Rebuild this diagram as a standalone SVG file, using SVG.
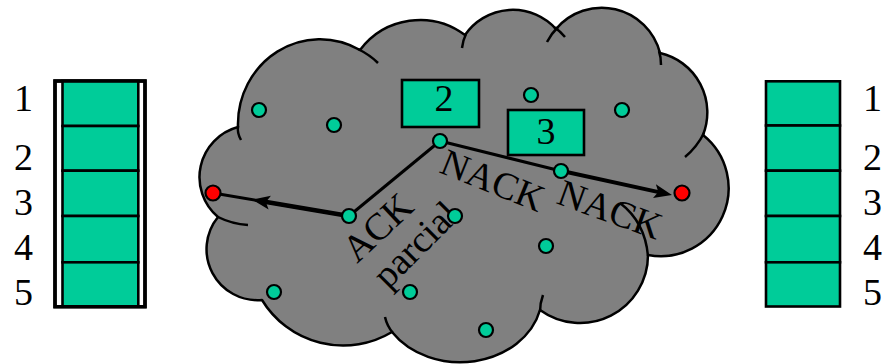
<svg xmlns="http://www.w3.org/2000/svg" width="883" height="364" viewBox="0 0 883 364">
<style>
.cell{fill:#00CC99;stroke:#000;stroke-width:2.6}
.lbl{font-family:"Liberation Serif","Times New Roman",serif;font-size:38px;fill:#000}
.node{fill:#00CC99;stroke:#000;stroke-width:2.2}
.end{fill:#FF0000;stroke:#000;stroke-width:2.2}
.tail{fill:none;stroke:#000;stroke-width:2.5}
.conn{fill:none;stroke:#000;stroke-linecap:butt}
</style>
<defs>
<marker id="ah" markerUnits="userSpaceOnUse" markerWidth="18" markerHeight="16" viewBox="0 0 18 16" refX="8" refY="8" orient="auto">
<path d="M0,1 L18,8 L0,15 L4,8 z" fill="#000"/>
</marker>
</defs>
<rect width="883" height="364" fill="#fff"/>

<g id="sender-buffer">
<rect x="55" y="81" width="90" height="225.7" fill="#fff" stroke="#000" stroke-width="3.4"/>
<rect class="cell" x="62.5" y="81" width="75.8" height="45"/>
<rect class="cell" x="62.5" y="126" width="75.8" height="44.7"/>
<rect class="cell" x="62.5" y="170.7" width="75.8" height="45.3"/>
<rect class="cell" x="62.5" y="216" width="75.8" height="46.3"/>
<rect class="cell" x="62.5" y="262.3" width="75.8" height="44.4"/>
<rect x="55" y="81" width="90" height="225.7" fill="none" stroke="#000" stroke-width="3.4"/>
<text class="lbl" x="14" y="111">1</text>
<text class="lbl" x="14" y="170">2</text>
<text class="lbl" x="14" y="215">3</text>
<text class="lbl" x="14" y="260">4</text>
<text class="lbl" x="14" y="305">5</text>
</g>

<g id="receiver-buffer">
<rect class="cell" x="766" y="81.3" width="74" height="44.2"/>
<rect class="cell" x="766" y="125.5" width="74" height="45.2"/>
<rect class="cell" x="766" y="170.7" width="74" height="45.3"/>
<rect class="cell" x="766" y="216" width="74" height="46.3"/>
<rect class="cell" x="766" y="262.3" width="74" height="44.2"/>
<text class="lbl" x="863" y="111">1</text>
<text class="lbl" x="863" y="170">2</text>
<text class="lbl" x="863" y="215">3</text>
<text class="lbl" x="863" y="260">4</text>
<text class="lbl" x="863" y="305">5</text>
</g>

<g id="network-cloud">
<path d="M238,127 A82,85 0 0 1 360,50 A75,75 0 0 1 465,35 A58,58 0 0 1 556,29 A60,60 0 0 1 660,53 A61,61 0 0 1 703,135 A68,68 0 0 1 648,255 A68,68 0 0 1 540,310 A82,68 0 0 1 392,332 A95,95 0 0 1 262,300 A51,51 0 0 1 218,217 A52,52 0 0 1 238,127 Z" fill="#808080" stroke="#000" stroke-width="2.5" stroke-linejoin="round"/>
<path class="tail" d="M238,126 Q237,133 241,140"/>
<path class="tail" d="M218,217 Q232,224 248,225"/>
<path class="tail" d="M358,49 Q370,55 378,63"/>
<path class="tail" d="M466,34 Q463,40 462,48"/>
<path class="tail" d="M554,27 Q560,31 565,37"/>
<path class="tail" d="M558,27 Q551,34 547,42"/>
<path class="tail" d="M659,51 Q661,57 661,65"/>
<path class="tail" d="M704,133 Q697,147 685,157"/>
<path class="tail" d="M620,203 Q645,222 648,256"/>
<path class="tail" d="M540,312 Q540,303 543,295"/>
<path class="tail" d="M393,333 Q387,326 385,317"/>
</g>

<g id="packet-2">
<rect class="cell" x="402" y="80" width="77" height="47"/>
<text class="lbl" x="444" y="111" text-anchor="middle">2</text>
</g>
<g id="packet-3">
<rect class="cell" x="508" y="110" width="76" height="45"/>
<text class="lbl" x="546" y="144" text-anchor="middle">3</text>
</g>

<g id="connectors">
<line class="conn" x1="349" y1="216" x2="213" y2="193" stroke-width="3"/>
<line class="conn" x1="349" y1="216" x2="261.9" y2="201.3" stroke-width="4.5" marker-end="url(#ah)"/>
<line class="conn" x1="349" y1="216" x2="440" y2="141" stroke-width="3"/>
<line class="conn" x1="440" y1="141" x2="561" y2="171" stroke-width="3"/>
<line class="conn" x1="562" y1="171" x2="662.2" y2="192.9" stroke-width="4" marker-end="url(#ah)"/>
</g>

<g id="labels">
<text class="lbl" transform="translate(357,264) rotate(-43)">ACK</text>
<text class="lbl" transform="translate(388,290) rotate(-45)">parcial</text>
<text class="lbl" transform="translate(438,172) rotate(22)">NACK</text>
<text class="lbl" transform="translate(555,203) rotate(20)">NACK</text>
</g>

<g id="nodes">
<circle class="node" cx="259" cy="110" r="7"/>
<circle class="node" cx="334" cy="125" r="7"/>
<circle class="node" cx="440" cy="141" r="7"/>
<circle class="node" cx="531" cy="95" r="7"/>
<circle class="node" cx="622" cy="110" r="7"/>
<circle class="node" cx="349" cy="216" r="7"/>
<circle class="node" cx="561" cy="171" r="7"/>
<circle class="node" cx="455" cy="216" r="7"/>
<circle class="node" cx="546" cy="246" r="7"/>
<circle class="node" cx="274" cy="292" r="7"/>
<circle class="node" cx="410" cy="292" r="7"/>
<circle class="node" cx="486" cy="330" r="7"/>
<circle class="end" cx="213" cy="193" r="7.5"/>
<circle class="end" cx="682" cy="193" r="7.5"/>
</g>
</svg>
